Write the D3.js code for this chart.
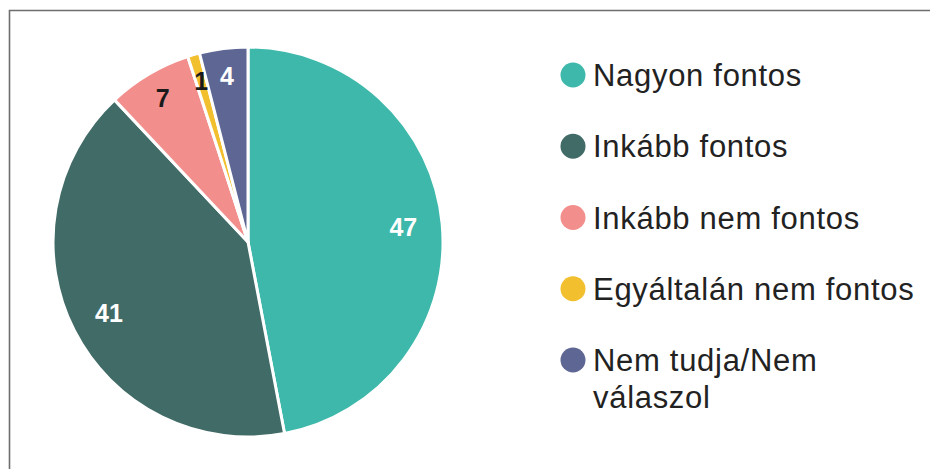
<!DOCTYPE html>
<html lang="hu">
<head>
<meta charset="UTF-8">
<title>Pie chart</title>
<script src="https://d3js.org/d3.v7.min.js"></script>
<style>
  body { margin: 0; background: #fff; }
  svg { display: block; }
</style>
</head>
<body>
<script>
  // data
  var categories = ["Nagyon fontos", "Inkább fontos", "Inkább nem fontos", "Egyáltalán nem fontos", "Nem tudja/Nem válaszol"];
  var values = [47, 41, 7, 1, 4];
  var colors = ["#3db8aa", "#416b66", "#f28f8c", "#f2bf2f", "#5e6694"];
  var labelColors = ["#fff", "#fff", "#1a1a1a", "#1a1a1a", "#fff"];
  // legend lines (last one wraps)
  var legendLines = [["Nagyon fontos"], ["Inkább fontos"], ["Inkább nem fontos"], ["Egyáltalán nem fontos"], ["Nem tudja/Nem", "válaszol"]];

  var w = 930, h = 469;
  var cx = 248, cy = 242, radius = 195;

  var svg = d3.select("body").append("svg")
      .attr("width", w)
      .attr("height", h);

  // frame (top and left edges visible)
  svg.append("path")
      .attr("d", "M9.5," + h + "V10.5H" + w)
      .attr("fill", "none")
      .attr("stroke", "#6e6e6e")
      .attr("stroke-width", 1.6);

  var pie = d3.pie().sort(null).value(d => d);
  var arcs = pie(values);

  var arc = d3.arc().innerRadius(0).outerRadius(radius);

  var g = svg.append("g").attr("transform", "translate(" + cx + "," + cy + ")");

  g.selectAll("path.slice")
    .data(arcs)
    .join("path")
      .attr("class", "slice")
      .attr("d", arc)
      .attr("fill", (d, i) => colors[i])
      .attr("stroke", "#fff")
      .attr("stroke-width", 3)
      .attr("stroke-linejoin", "round");

  // value labels - small slices pushed further out
  g.selectAll("text.val")
    .data(arcs)
    .join("text")
      .attr("class", "val")
      .attr("transform", d => {
        var r = d.data >= 10 ? radius * 0.8 : radius * 0.86;
        var c = d3.arc().innerRadius(r).outerRadius(r).centroid(d);
        return "translate(" + c[0] + "," + c[1] + ")";
      })
      .attr("text-anchor", "middle")
      .attr("dy", "0.36em")
      .attr("font-family", "'Liberation Sans', Arial, sans-serif")
      .attr("font-weight", "bold")
      .attr("font-size", 25)
      .attr("fill", (d, i) => labelColors[i])
      .text(d => d.data);

  // legend
  var legendY = d3.scalePoint()
      .domain(categories)
      .range([75, 360]);

  var items = svg.selectAll("g.legend")
    .data(categories)
    .join("g")
      .attr("class", "legend")
      .attr("transform", d => "translate(573," + legendY(d) + ")");

  items.append("circle")
      .attr("r", 12.5)
      .attr("fill", (d, i) => colors[i]);

  items.append("text")
      .attr("x", 20)
      .attr("y", 11)
      .attr("font-family", "'Liberation Sans', Arial, sans-serif")
      .attr("font-size", 31)
      .attr("letter-spacing", 0.7)
      .attr("fill", "#222")
      .selectAll("tspan")
      .data((d, i) => legendLines[i])
      .join("tspan")
        .attr("x", 20)
        .attr("dy", (d, j) => j === 0 ? 0 : 37)
        .text(d => d);
</script>
</body>
</html>
